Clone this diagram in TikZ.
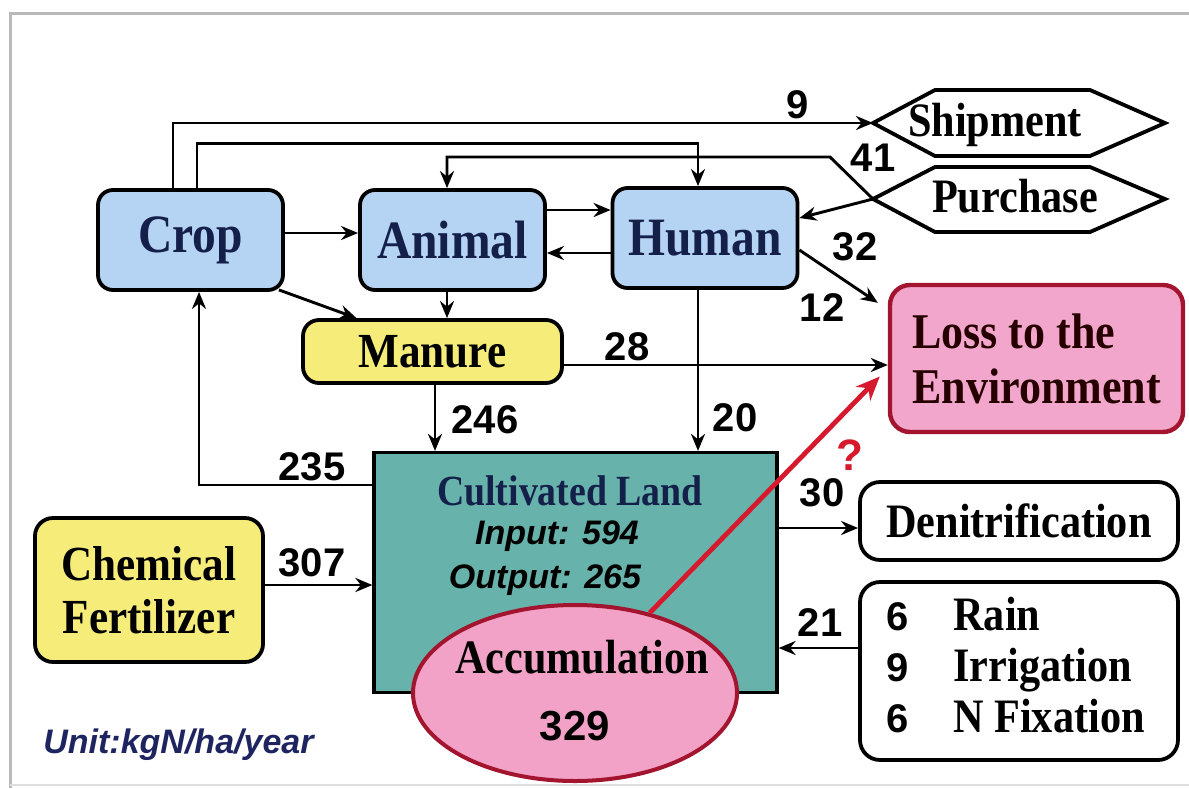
\documentclass[tikz,border=0pt]{standalone}
\usepackage{fontspec}
\setmainfont{Liberation Serif}
\newfontfamily\boxfont[FakeStretch=0.88]{Liberation Serif}
\newfontfamily\numfont{Liberation Sans}
\usetikzlibrary{arrows.meta,shapes.geometric}

\definecolor{cropblue}{HTML}{B5D3F3}
\definecolor{manureyellow}{HTML}{F6EC7A}
\definecolor{losspink}{HTML}{F3A6CB}
\definecolor{lossred}{HTML}{A3142E}
\definecolor{landteal}{HTML}{67B3AB}
\definecolor{accpink}{HTML}{F2A2C6}
\definecolor{arrowred}{HTML}{D7192D}
\definecolor{navy}{HTML}{14204A}
\definecolor{unitblue}{HTML}{1E2460}

\begin{document}
\begin{tikzpicture}[x=0.5pt, y=-0.5pt, >={Stealth[length=8.5pt,width=7pt]},
  flow/.style={->, line width=1.45pt, black},
  bluebox/.style={draw=black, line width=1.9pt, fill=cropblue, rounded corners=7.5pt,
    minimum width=92.5pt, minimum height=50pt, inner sep=0pt, text=navy,
    font=\boxfont\bfseries\fontsize{27}{30}\selectfont},
  yellowbox/.style={draw=black, line width=1.9pt, fill=manureyellow, rounded corners=8pt,
    inner sep=0pt, align=center, font=\boxfont\bfseries\fontsize{24.5}{26.5}\selectfont},
  whitebox/.style={draw=black, line width=1.9pt, fill=white, rounded corners=10pt, inner sep=0pt},
  txt/.style={inner sep=0pt, font=\boxfont\bfseries\fontsize{24}{26}\selectfont},
  numlbl/.style={inner sep=0pt, font=\numfont\bfseries\fontsize{20}{22}\selectfont},
  italbl/.style={inner sep=0pt, font=\numfont\bfseries\itshape\fontsize{17}{20}\selectfont}
]

  % 1. frame
  \useasboundingbox (0,0) rectangle (1189,788);
  \draw[gray!55, line width=1.5pt] (1189,13) -- (10,13) -- (10,788);
  \draw[gray!25, line width=1pt] (10,785) -- (1189,785);

  % 2. compartments
  \node[bluebox] (crop) at (190.5,240) {Crop};
  \node[bluebox] (animal) at (452.5,240) {Animal};
  \node[bluebox] (human) at (705,238) {Human};
  \node[yellowbox, minimum width=129.5pt, minimum height=31.5pt] (manure) at (432.5,351.5) {Manure};
  \node[yellowbox, minimum width=114pt, minimum height=72pt, rounded corners=9pt] (fert) at (149,590) {Chemical\\Fertilizer};
  \node[draw=lossred, line width=2.2pt, fill=losspink, rounded corners=10pt, inner sep=0pt,
    minimum width=146.5pt, minimum height=73.5pt, align=left, text=black!85!red,
    font=\boxfont\bfseries\fontsize{25}{27.5}\selectfont] (loss) at (1036.5,358.5) {Loss to the\\Environment};

  % cultivated land + accumulation
  \node[draw=black, line width=1.6pt, fill=landteal, minimum width=201.5pt, minimum height=120pt] (cl) at (575.5,572.5) {};
  \node[txt, anchor=base, text=navy, font=\boxfont\bfseries\fontsize{21.5}{24}\selectfont] (clname) at (570,505) {Cultivated Land};
  \node[italbl, anchor=base] (clin) at (557,544) {Input: 594};
  \node[italbl, anchor=base] (clout) at (545,588) {Output: 265};

  % red link (?)
  \node[ellipse, draw=lossred, line width=2pt, fill=accpink, inner sep=0pt,
    minimum width=162pt, minimum height=88pt] (accum) at (575,693) {};
  \draw[->, arrowred, line width=2.4pt, >={Stealth[length=12pt,width=10pt]}]
    (accum.47) -- ([shift={(-4pt,-9pt)}]loss.west);
  \node[txt] (accname) at (582,673) [anchor=base] {Accumulation};
  \node[numlbl, anchor=base, font=\numfont\bfseries\fontsize{21}{23}\selectfont] (accval) at (575,740) {329};

  % outside boxes
  \node[whitebox, txt, minimum width=159pt, minimum height=39pt] (denit) at (1019,521) {Denitrification};
  \node[whitebox, minimum width=159pt, minimum height=89pt] (rain) at (1019,671) {};
  \foreach \val/\src [count=\i] in {6/Rain, 9/Irrigation, 6/N Fixation}{
    \node[numlbl, anchor=base] (rainnum\i) at (898, 579+51*\i) {\val};
    \node[txt, anchor=base west] (rainsrc\i) at (953, 579+51*\i) {\src};
  }

  % shipment / purchase
  \coordinate (shipW) at (873,123);
  \coordinate (purW) at (873,199);
  \draw[line width=1.9pt, fill=white] (shipW) -- (935,90) -- (1090,90) -- (1165,123) -- (1090,156) -- (935,156) -- cycle;
  \draw[line width=1.9pt, fill=white] (purW) -- (935,167) -- (1090,167) -- (1165,199) -- (1090,232) -- (935,232) -- cycle;
  \node[txt, anchor=base] (ship) at (995,136) {Shipment};
  \node[txt, anchor=base] (pur) at (1015,212) {Purchase};

  % 3. flows
  \draw[flow] ([xshift=-8.75pt]crop.north) |- (shipW);
  \draw[flow] ([xshift=3.25pt]crop.north) -- ++(0,-45) -| ([xshift=-3.5pt]human.north);
  \draw[flow] (purW) -- ++(-43,-42) -| ([xshift=-2.75pt]animal.north);
  \draw[flow] (purW) -- ([yshift=10pt]human.east);
  \draw[flow] ([yshift=-6pt]human.east) -- ([shift={(-5pt,-10pt)}]loss.north west);
  \draw[flow] ([yshift=3.5pt]crop.east) -- ([yshift=3.5pt]crop.east -| animal.west);
  \draw[flow] ([yshift=15pt]animal.east) -- ([yshift=15pt]animal.east -| human.west);
  \draw[flow] ([yshift=-6.5pt]animal.east -| human.west) -- ([yshift=-6.5pt]animal.east);
  \draw[flow] ([xshift=-2.75pt]animal.south) -- ([xshift=-2.75pt]animal.south |- manure.north);
  \draw[flow] ([xshift=-3pt,yshift=1pt]crop.south east) -- ([xshift=-38pt]manure.north);
  \draw[flow] ([xshift=1.25pt]manure.south) -- ([xshift=1.25pt]manure.south |- cl.north);
  \draw[flow] ([xshift=-3.5pt]human.south) -- ([xshift=-3.5pt]human.south |- cl.north);
  \draw[flow] ([yshift=-6.75pt]manure.east) -- ([yshift=-6.75pt]manure.east -| loss.west);
  \draw[flow] ([yshift=43.75pt]cl.west) -| ([xshift=4.25pt]crop.south);
  \draw[flow] ([yshift=2.5pt]fert.east) -- ([yshift=2.5pt]fert.east -| cl.west);
  \draw[flow] ([yshift=-3.5pt]denit.west -| cl.east) -- ([yshift=-3.5pt]denit.west);
  \draw[flow] ([yshift=11.5pt]rain.west) -- ([yshift=11.5pt]rain.west -| cl.east);

  % 4. amounts
  \node[numlbl] (n9) at (798,105) {9};
  \node[numlbl] (n41) at (873,158) {41};
  \node[numlbl] (n32) at (855,247) {32};
  \node[numlbl] (n12) at (822,308) {12};
  \node[numlbl] (n28) at (627,347) {28};
  \node[numlbl] (n246) at (485,420) {246};
  \node[numlbl] (n20) at (735,418) {20};
  \node[numlbl] (n235) at (312,467) {235};
  \node[numlbl] (n307) at (312,563) {307};
  \node[numlbl] (n30) at (822,493) {30};
  \node[numlbl] (n21) at (820,623) {21};
  \node[numlbl, text=arrowred, font=\numfont\bfseries\fontsize{22}{24}\selectfont] (qmark) at (850,455) {?};

  % unit
  \node[italbl, anchor=base west, text=unitblue] (unit) at (43,753) {Unit:kgN/ha/year};

\end{tikzpicture}
\end{document}
